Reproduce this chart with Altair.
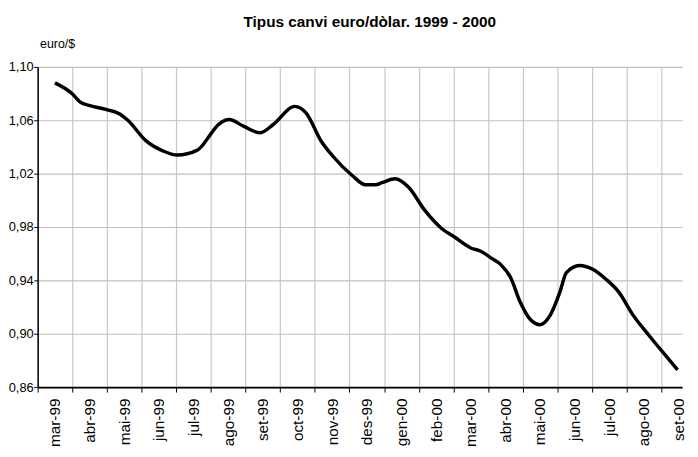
import altair as alt
import pandas as pd

months = ["mar-99", "abr-99", "mai-99", "jun-99", "jul-99", "ago-99", "set-99",
          "oct-99", "nov-99", "des-99", "gen-00", "feb-00", "mar-00", "abr-00",
          "mai-00", "jun-00", "jul-00", "ago-00", "set-00"]

# position along the month axis (0 = mar-99, 18 = set-00)
month_pos = [0.0, 0.49, 0.73, 1.01, 1.49, 1.87, 2.11, 2.63, 3.11, 3.53, 4.11, 4.49,
             4.63, 5.03, 5.44, 5.92, 6.30, 6.92, 7.25, 7.68, 8.01, 8.58, 8.96, 9.25,
             9.44, 9.82, 10.20, 10.67, 11.15, 11.53, 12.00, 12.29, 12.58, 12.86,
             13.15, 13.43, 13.72, 14.00, 14.29, 14.57, 14.76, 15.14, 15.52, 15.90,
             16.28, 16.66, 17.14, 17.61, 17.97]
rate = [1.088, 1.080, 1.0736, 1.071, 1.068, 1.0647, 1.0598, 1.0445, 1.0371, 1.0339,
        1.0376, 1.0494, 1.0543, 1.0605, 1.0556, 1.0506, 1.0568, 1.0704, 1.0654,
        1.0445, 1.0334, 1.0186, 1.0117, 1.0117, 1.0132, 1.0161, 1.0099, 0.9926,
        0.9791, 0.9725, 0.9643, 0.9618, 0.9569, 0.952, 0.9421, 0.9236, 0.9107,
        0.9068, 0.9137, 0.931, 0.9458, 0.9512, 0.9483, 0.9409, 0.931, 0.9149,
        0.8989, 0.8841, 0.873]

y_ticks = [0.86, 0.90, 0.94, 0.98, 1.02, 1.06, 1.10]
band_edges = [i - 0.5 for i in range(len(months))]

df = pd.DataFrame({"pos": month_pos, "rate": rate})

months_js = "[" + ",".join("'" + m + "'" for m in months) + "]"

FONT = "Liberation Sans"
W, H = 652, 324
band_px = W / (18.1 + 0.5)

chart = alt.Chart(df).mark_line(
    color="black", strokeWidth=3.5, interpolate="monotone"
).encode(
    x=alt.X(
        "pos:Q",
        title=None,
        scale=alt.Scale(domain=[-0.5, 18.1], nice=False, zero=False),
        axis=alt.Axis(
            values=band_edges,
            labelExpr=months_js + "[round(datum.value + 0.5)]",
            labelOffset=band_px / 2,
            labelAngle=270,
            labelAlign="right",
            labelBaseline="middle",
            labelPadding=6,
            labelFontSize=15.5,
            labelColor="black",
            labelFont=FONT,
            labelOverlap=False,
            labelFlush=False,
            labelBound=False,
            tickSize=5,
            tickColor="black",
            domainColor="black",
            domainWidth=2,
            grid=True,
            gridColor="#c8c8c8",
            gridWidth=1.2,
        ),
    ),
    y=alt.Y(
        "rate:Q",
        scale=alt.Scale(domain=[0.86, 1.10], nice=False, zero=False),
        axis=alt.Axis(
            values=y_ticks,
            labelExpr="replace(format(datum.value, '.2f'), '.', ',')",
            labelFontSize=13,
            labelColor="black",
            labelFont=FONT,
            labelPadding=0.5,
            tickSize=4,
            tickColor="black",
            domainColor="black",
            domainWidth=1.5,
            grid=True,
            gridColor="#c0c0c0",
            gridWidth=1.2,
            title="euro/$",
            titleAngle=0,
            titleAlign="left",
            titleBaseline="alphabetic",
            titleX=2,
            titleY=-20,
            titleFont=FONT,
            titleFontSize=12.5,
            titleFontWeight="normal",
            titleColor="black",
        ),
    ),
).properties(
    width=W,
    height=H,
    title=alt.TitleParams(
        "Tipus canvi euro/dòlar. 1999 - 2000",
        font=FONT,
        fontSize=15.5,
        fontWeight="bold",
        color="black",
        anchor="middle",
        frame="group",
        baseline="alphabetic",
        offset=10,
        dx=10,
        dy=15,
    ),
    autosize=alt.AutoSizeParams(type="none"),
    padding={"left": 30, "top": 57, "right": 8, "bottom": 58},
).configure_view(stroke=None)

chart.save("out.html", embed_options={"renderer": "svg", "actions": False})
